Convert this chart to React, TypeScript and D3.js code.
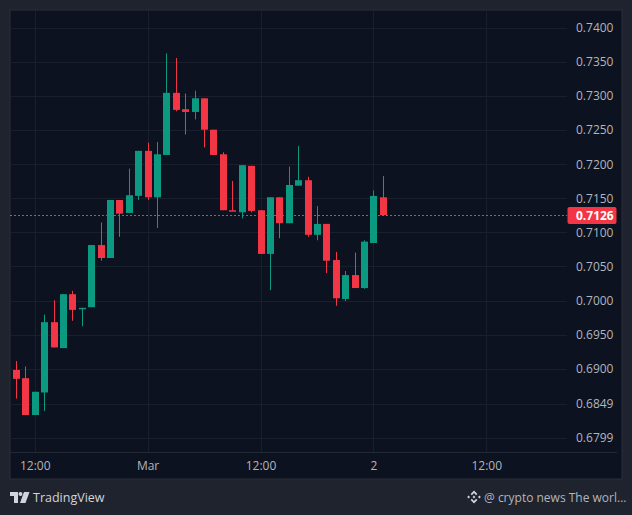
import React from "react";
import * as d3 from "d3";

const opens = [0.6899,0.6887,0.6833,0.6866,0.6969,0.6931,0.7010,0.6988,0.6991,0.7082,0.7063,0.7148,0.7129,0.7154,0.7220,0.7152,0.7214,0.7305,0.7281,0.7277,0.7297,0.7251,0.7215,0.7133,0.7130,0.7198,0.7133,0.7069,0.7152,0.7114,0.7169,0.7177,0.7097,0.7113,0.7060,0.7003,0.7038,0.7019,0.7085,0.7152];
const highs = [0.6912,0.6904,0.6867,0.6980,0.7001,0.7010,0.7015,0.6990,0.7082,0.7115,0.7148,0.7148,0.7194,0.7220,0.7232,0.7233,0.7363,0.7356,0.7304,0.7308,0.7297,0.7251,0.7218,0.7176,0.7199,0.7198,0.7133,0.7152,0.7152,0.7197,0.7227,0.7182,0.7139,0.7113,0.7072,0.7044,0.7071,0.7089,0.7162,0.7183];
const lows = [0.6857,0.6833,0.6833,0.6839,0.6932,0.6931,0.6971,0.6963,0.6991,0.7059,0.7063,0.7094,0.7129,0.7148,0.7148,0.7107,0.7214,0.7278,0.7244,0.7266,0.7225,0.7214,0.7133,0.7132,0.7121,0.7130,0.7069,0.7016,0.7092,0.7114,0.7169,0.7094,0.7089,0.7041,0.6993,0.7000,0.7019,0.7018,0.7085,0.7126];
const closes = [0.6886,0.6833,0.6867,0.6969,0.6932,0.7010,0.6987,0.6990,0.7082,0.7063,0.7148,0.7128,0.7155,0.7220,0.7152,0.7215,0.7305,0.7280,0.7277,0.7297,0.7251,0.7214,0.7133,0.7132,0.7199,0.7132,0.7069,0.7152,0.7114,0.7170,0.7177,0.7097,0.7113,0.7059,0.7004,0.7038,0.7019,0.7087,0.7154,0.7126];

const priceTicks = [0.74,0.735,0.73,0.725,0.72,0.715,0.71,0.705,0.7,0.695,0.69,0.6849,0.6799];
const timeTickIndex = [2,14,26,38,50];
const timeTickLabels = ["12:00","Mar","12:00","2","12:00"];
const lastPrice = 0.7126;

const UP = "#0b9a81";
const DOWN = "#f23645";
const FONT = "'Open Sans', 'Noto Sans', sans-serif";

export default function App() {
  const W = 632, H = 515;
  const paneL = 10, paneT = 10, paneR = 622, paneB = 479, axisX = 567, axisY = 452;
  const y = d3.scaleLinear().domain([0.74, 0.6799]).range([28, 438.2]);
  const x = d3.scaleLinear().domain([0, 39]).range([16.4, 383.3]);
  const bodyW = 7;
  const px = (v: number) => Math.floor(v) + 0.5;

  return (
    <svg width={W} height={H} viewBox={`0 0 ${W} ${H}`} style={{ position: "absolute", left: 0, top: 0, fontFamily: FONT }}>
      <rect width={W} height={H} fill="#1f232e" />
      <rect x={paneL} y={paneT} width={paneR - paneL} height={paneB - paneT} fill="#0c121f" stroke="#2a2e39" strokeWidth={1} />

      {priceTicks.map((p) => (
        <line key={p} x1={paneL} x2={axisX} y1={px(y(p))} y2={px(y(p))} stroke="#191f2c" />
      ))}
      {timeTickIndex.map((t, i) => (
        <line key={i} x1={px(x(t))} x2={px(x(t))} y1={paneT} y2={axisY} stroke="#191f2c" />
      ))}
      <line x1={paneL} x2={axisX + 50} y1={axisY + 0.5} y2={axisY + 0.5} stroke="#232835" />

      {opens.map((o, i) => {
        const c = closes[i];
        const col = c >= o ? UP : DOWN;
        const cx = px(x(i));
        const top = y(Math.max(o, c));
        const bot = y(Math.min(o, c));
        return (
          <g key={i}>
            <line x1={cx} x2={cx} y1={y(highs[i])} y2={y(lows[i])} stroke={col} strokeWidth={1} />
            <rect x={cx - bodyW / 2} y={top} width={bodyW} height={Math.max(bot - top, 1.5)} fill={col} />
          </g>
        );
      })}

      <line x1={paneL} x2={axisX} y1={px(y(lastPrice))} y2={px(y(lastPrice))} stroke={DOWN} strokeDasharray="2 2" shapeRendering="crispEdges" />

      {priceTicks.map((p) => (
        <text key={p} x={576} y={y(p) + 4} fontSize={12} fill="#b2b5be">{p.toFixed(4)}</text>
      ))}
      <rect x={567.5} y={207} width={49} height={17} rx={2} fill={DOWN} />
      <text x={576} y={220} fontSize={12} fontWeight={700} fill="#ffffff">{lastPrice.toFixed(4)}</text>

      {timeTickIndex.map((t, i) => (
        <text key={i} x={x(t)} y={470} fontSize={12} textAnchor="middle" fill="#b2b5be">{timeTickLabels[i]}</text>
      ))}

      <g fill="#d1d4dc">
        <path d="M10 492 H18 V503 H14 V496 H10 Z" />
        <circle cx={20.5} cy={494} r={2} />
        <path d="M24 492 H29.5 L25.5 503 H20 Z" />
      </g>
      <text x={33} y={502} fontSize={12.5} fill="#d1d4dc">TradingView</text>

      <g fill="#d1d4dc">
        <path d="M474 490.5 l3.4 3.4 l-1.3 1.3 l-2.1 -2.1 l-2.1 2.1 l-1.3 -1.3 Z" />
        <path d="M474 503.5 l3.4 -3.4 l-1.3 -1.3 l-2.1 2.1 l-2.1 -2.1 l-1.3 1.3 Z" />
        <rect x={467.6} y={496} width={2} height={2} transform="rotate(45 468.6 497)" />
        <rect x={478.4} y={496} width={2} height={2} transform="rotate(45 479.4 497)" />
        <rect x={473} y={496} width={2} height={2} transform="rotate(45 474 497)" />
      </g>
      <text x={484} y={502} fontSize={12} fill="#b2b5be">@ crypto news The worl...</text>
    </svg>
  );
}
